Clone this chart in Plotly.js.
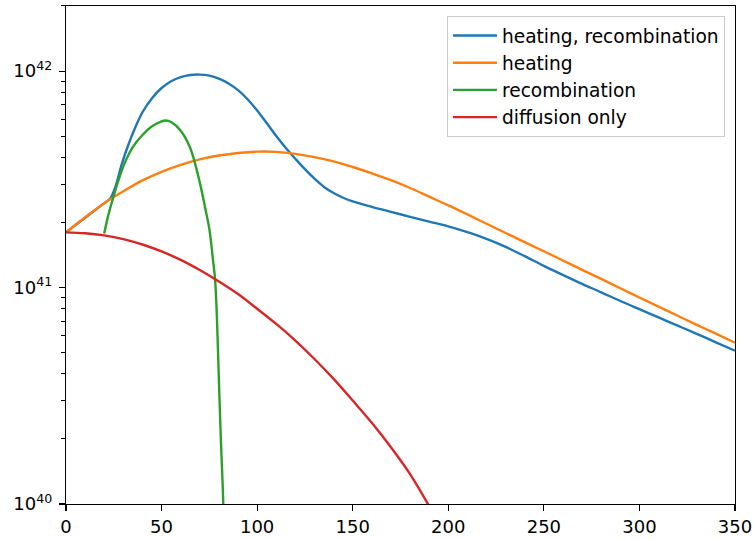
<!DOCTYPE html>
<html>
<head>
<meta charset="utf-8">
<script src="https://cdn.plot.ly/plotly-3.0.1.min.js"></script>
<style>html,body{margin:0;padding:0;background:#fff;}#chart{width:753px;height:540px;}</style>
</head>
<body>
<div id="chart"></div>
<script>
// x positions and log10 of the y values
const xBlue = [0,10,20,23,26,29,32,36,40,45,50,55,60,65,70,75,80,85,90,95,100,105,110,115,120,125,130,135,140,145,150,160,170,180,190,200,210,220,230,240,250,260,270,280,290,300,310,320,330,340,350];
const logBlue = [41.255,41.322,41.39,41.41,41.47,41.565,41.645,41.735,41.81,41.875,41.922,41.953,41.972,41.982,41.984,41.979,41.965,41.943,41.912,41.87,41.818,41.76,41.70,41.645,41.595,41.547,41.503,41.465,41.437,41.415,41.398,41.373,41.35,41.327,41.305,41.283,41.256,41.225,41.188,41.145,41.10,41.058,41.017,40.978,40.938,40.90,40.862,40.824,40.786,40.747,40.708];

const xOrange = [0,10,20,30,40,50,60,70,80,90,100,110,120,130,140,150,160,170,180,190,200,210,220,230,240,250,260,270,280,290,300,310,320,330,340,350];
const logOrange = [41.255,41.325,41.39,41.445,41.495,41.535,41.567,41.592,41.61,41.622,41.628,41.627,41.618,41.603,41.583,41.557,41.528,41.496,41.46,41.42,41.38,41.338,41.295,41.252,41.21,41.168,41.125,41.082,41.04,40.997,40.954,40.912,40.87,40.828,40.787,40.745];

const xGreen = [20,22,25,30,35,40,45,50,52,55,60,65,70,73,75,77,78,79,80,81,82,83];
const logGreen = [41.25,41.33,41.425,41.56,41.65,41.705,41.745,41.768,41.772,41.765,41.725,41.645,41.485,41.36,41.27,41.12,41.037,40.85,40.57,40.30,40.08,39.80];

const xRed = [0,10,20,30,40,50,60,70,80,90,100,110,120,130,140,150,160,170,180,190];
const logRed = [41.255,41.251,41.241,41.224,41.199,41.167,41.128,41.081,41.028,40.97,40.902,40.832,40.755,40.67,40.578,40.478,40.375,40.262,40.138,39.99];

const seriesNames = ['heating, recombination','heating','recombination','diffusion only'];
const colors = ['#1f77b4','#ff7f0e','#2ca02c','#d62728'];
const xTicks = [0,50,100,150,200,250,300,350];
const yTickVals = [1e40,1e41,1e42];
const yTickText = ['10<sup>40</sup>','10<sup>41</sup>','10<sup>42</sup>'];

const toVal = a => a.map(v => Math.pow(10, v));
const xs = [xBlue,xOrange,xGreen,xRed];
const ys = [logBlue,logOrange,logGreen,logRed];

const minorVals = [];
for (let d = 40; d <= 42; d++) for (let m = 2; m <= 9; m++) minorVals.push(m * Math.pow(10, d));

const traces = xs.map((x,i) => ({
  x: x, y: toVal(ys[i]), type: 'scatter', mode: 'lines', name: seriesNames[i],
  line: {color: colors[i], width: 2.4, shape: 'spline', smoothing: 1}
}));

const layout = {
  width: 753, height: 540,
  margin: {l: 66, r: 18, t: 6, b: 36},
  paper_bgcolor: '#fff', plot_bgcolor: '#fff',
  font: {family: 'DejaVu Sans', size: 18, color: '#000'},
  showlegend: true,
  legend: {x: 0.985, xanchor: 'right', y: 0.98, yanchor: 'top', itemwidth: 44,
           bgcolor: 'rgba(255,255,255,0.8)', bordercolor: '#cccccc', borderwidth: 1,
           font: {family: 'DejaVu Sans', size: 18.6, color: '#000'}},
  xaxis: {range: [0,350], tickvals: xTicks, ticks: 'outside', ticklen: 6, tickwidth: 1.2,
          tickcolor: '#000', showline: true, linecolor: '#000', linewidth: 1.2, mirror: true,
          showgrid: false, zeroline: false},
  yaxis: {type: 'log', range: [40, 42.301], tickvals: yTickVals, ticktext: yTickText,
          ticks: 'outside', ticklen: 6, tickwidth: 1.2, tickcolor: '#000', ticklabelstandoff: 3,
          showline: true, linecolor: '#000', linewidth: 1.2, mirror: true,
          showgrid: false, zeroline: false,
          minor: {tickvals: minorVals, ticks: 'outside', ticklen: 3.5, tickwidth: 1, tickcolor: '#000', showgrid: false}}
};

Plotly.newPlot('chart', traces, layout, {displayModeBar: false, staticPlot: true});
</script>
</body>
</html>
